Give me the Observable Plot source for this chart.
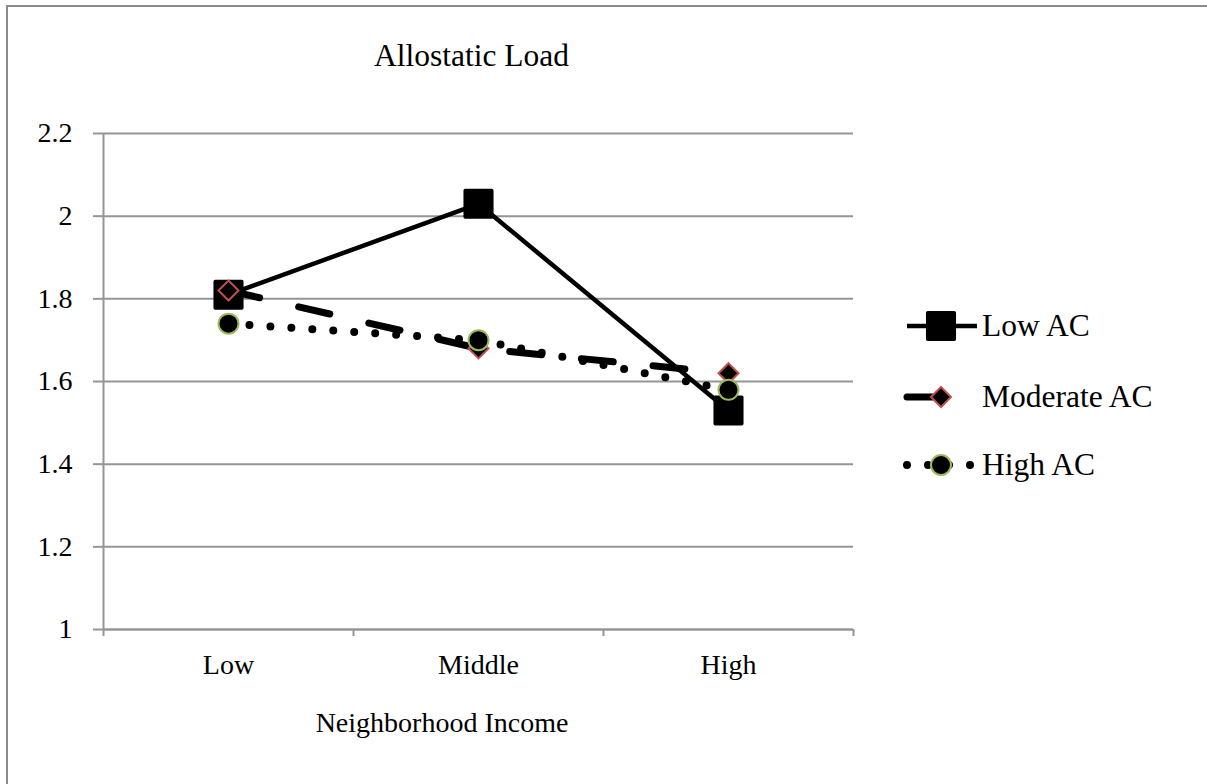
<!DOCTYPE html>
<html>
<head>
<meta charset="utf-8">
<script src="https://cdn.jsdelivr.net/npm/d3@7"></script>
<script src="https://cdn.jsdelivr.net/npm/@observablehq/plot@0.6"></script>
<style>
  html, body { margin: 0; padding: 0; background: #fff; overflow: hidden; }
  body { width: 1207px; height: 784px; position: relative;
         font-family: "Liberation Serif", "Times New Roman", serif; }
  #frame { position: absolute; left: 6px; top: 5px; width: 1199px; height: 777px;
           border-top: 2px solid #8a8a8a; border-left: 2px solid #8a8a8a; }
  #chart, #overlay { position: absolute; left: 0; top: 0; }
  svg text { font-family: "Liberation Serif", "Times New Roman", serif !important; }
</style>
</head>
<body>
<div id="frame"></div>
<div id="chart"></div>
<svg id="overlay" width="1207" height="784"></svg>
<script>
// Neighborhood income groups on the x axis
const incomeLevels = ["Low", "Middle", "High"];
// Allostatic-capacity groups, one line each
const seriesNames = ["Low AC", "Moderate AC", "High AC"];
// Mean allostatic load per income group
const lowAC = [1.81, 2.03, 1.53];
const moderateAC = [1.82, 1.68, 1.62];
const highAC = [1.74, 1.70, 1.58];
// Value-axis ticks
const yTicks = [1, 1.2, 1.4, 1.6, 1.8, 2, 2.2];

const chartTitle = "Allostatic Load";
const xTitle = "Neighborhood Income";

const seriesValues = [lowAC, moderateAC, highAC];
const rows = seriesNames.flatMap((s, si) =>
  incomeLevels.map((lvl, li) => ({series: s, level: lvl, pos: li + 0.5, value: seriesValues[si][li]}))
);

// Drawing style for each series (line + marker)
const styles = {
  "Low AC": {
    line: {stroke: "#000", strokeWidth: 4.5},
    dot: {symbol: "square", r: 15, fill: "#000", stroke: "#000", strokeWidth: 3.5, strokeLinejoin: "round"}
  },
  "Moderate AC": {
    line: {stroke: "#000", strokeWidth: 7, strokeDasharray: "32,40", strokeLinecap: "round"},
    dot: {symbol: "diamond2", r: 9, fill: "#000", stroke: "#c0504d", strokeWidth: 2}
  },
  "High AC": {
    line: {stroke: "#000", strokeWidth: 8, strokeDasharray: "0,21", strokeLinecap: "round"},
    dot: {symbol: "circle", r: 10, fill: "#000", stroke: "#9bbb59", strokeWidth: 2}
  }
};

const axisGray = "#959595";

const seriesMarks = seriesNames.flatMap(s => {
  const data = rows.filter(d => d.series === s);
  return [
    Plot.line(data, {x: "pos", y: "value", ...styles[s].line}),
    Plot.dot(data, {x: "pos", y: "value", ...styles[s].dot})
  ];
});

const chart = Plot.plot({
  width: 1207,
  height: 784,
  marginTop: 133,
  marginBottom: 155,
  marginLeft: 103,
  marginRight: 354,
  x: {type: "linear", domain: [0, incomeLevels.length]},
  y: {type: "linear", domain: [1, 2.2]},
  style: {background: "transparent", fontFamily: "Liberation Serif, Times New Roman, serif", color: "#000"},
  marks: [
    Plot.gridY(yTicks, {stroke: axisGray, strokeOpacity: 1, strokeWidth: 2}),
    Plot.ruleX([0], {stroke: axisGray, strokeWidth: 2}),
    Plot.ruleY([1], {stroke: axisGray, strokeWidth: 2}),
    Plot.axisY(yTicks, {
      anchor: "left", tickSize: 10, tickPadding: 21, fontSize: 28,
      stroke: axisGray, strokeWidth: 2, fill: "#000", label: null,
      tickFormat: d => String(d)
    }),
    // boundary ticks between categories
    Plot.axisX(d3.range(incomeLevels.length + 1), {
      anchor: "bottom", tickSize: 7, stroke: axisGray, strokeWidth: 2,
      tickFormat: () => "", label: null
    }),
    // category labels centred in each band
    Plot.axisX(incomeLevels.map((_, i) => i + 0.5), {
      anchor: "bottom", tickSize: 0, tickPadding: 25, fontSize: 28, fill: "#000",
      tickFormat: d => incomeLevels[Math.floor(d)], label: null
    }),
    ...seriesMarks
  ]
});
document.getElementById("chart").appendChild(chart);

// Title, axis title and legend
const svg = d3.select("#overlay");
svg.append("text").attr("x", 471.5).attr("y", 66).attr("text-anchor", "middle")
  .attr("font-size", 31.5).attr("fill", "#000").text(chartTitle);
svg.append("text").attr("x", 442).attr("y", 732).attr("text-anchor", "middle")
  .attr("font-size", 28).attr("fill", "#000").text(xTitle);

const legendRows = [326, 397, 465];
const legendSymbols = {square: d3.symbolSquare, diamond2: d3.symbolDiamond2, circle: d3.symbolCircle};
seriesNames.forEach((s, i) => {
  const y = legendRows[i];
  const st = styles[s];
  const g = svg.append("g");
  g.append("line").attr("x1", 907).attr("x2", 977).attr("y1", y).attr("y2", y)
    .attr("stroke", st.line.stroke).attr("stroke-width", st.line.strokeWidth)
    .attr("stroke-dasharray", st.line.strokeDasharray || null)
    .attr("stroke-linecap", st.line.strokeLinecap || "butt");
  const r = st.dot.r;
  g.append("path")
    .attr("d", d3.symbol(legendSymbols[st.dot.symbol], r * r * Math.PI)())
    .attr("transform", `translate(941,${y})`)
    .attr("fill", st.dot.fill).attr("stroke", st.dot.stroke)
    .attr("stroke-width", st.dot.strokeWidth)
    .attr("stroke-linejoin", st.dot.strokeLinejoin || "miter");
  g.append("text").attr("x", 982).attr("y", y + 10)
    .attr("font-size", 31.5).attr("fill", "#000").text(s);
});
</script>
</body>
</html>
